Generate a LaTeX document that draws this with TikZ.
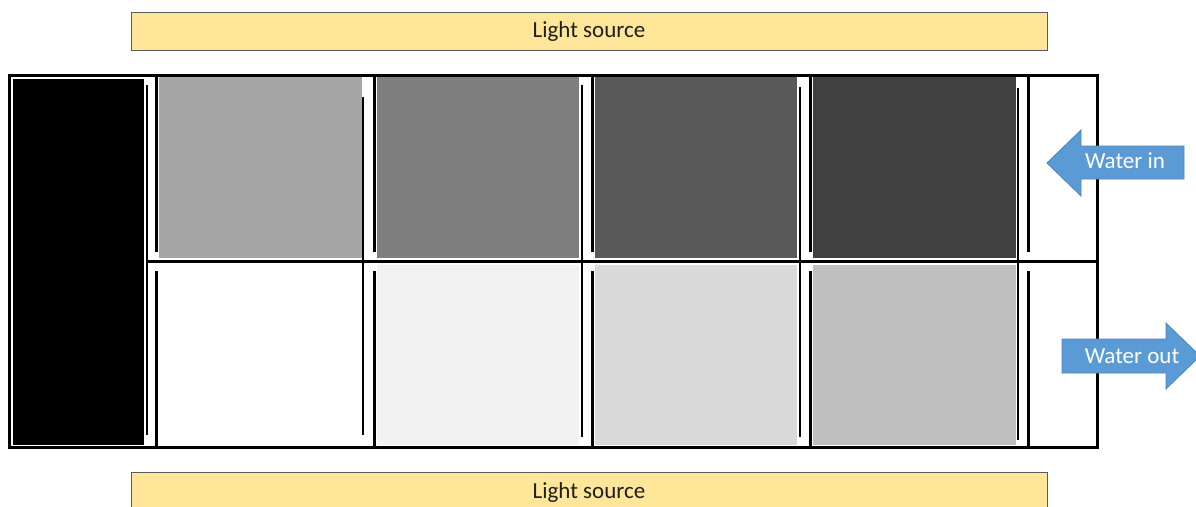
\documentclass[tikz,border=0pt]{standalone}
\usepackage{fontspec}
\setmainfont{Carlito}
\definecolor{lightY}{HTML}{FFE699}
\definecolor{arrowB}{HTML}{5B9BD5}
\definecolor{arrowE}{HTML}{4A86BE}
\definecolor{boxE}{HTML}{5A5A5A}
\begin{document}
\begin{tikzpicture}[x=1pt,y=-1pt,
  lightbox/.style={draw=boxE, line width=1pt, fill=lightY, minimum width=916pt, minimum height=38pt, inner sep=0pt, text=black!88, font=\fontsize{23}{27}\selectfont},
  wall/.style={line width=3pt, line cap=rect},
  baffle/.style={line width=2.6pt},
  flow/.style={fill=arrowB, draw=arrowE, line width=0.8pt},
  flowtext/.style={text=white, font=\fontsize{23}{27}\selectfont, inner sep=0pt}]
\clip (0,0) rectangle (1196,506);
\fill[white] (0,0) rectangle (1196,506);
% light sources
\node[lightbox] (lstop) at (589,31) {Light source};
\node[lightbox] (lsbot) at (589,491) {};
\node[text=black!88, font=\fontsize{23}{27}\selectfont, inner sep=0pt] (lsbottxt) at (589,492) {Light source};
% fills
\fill[black] (13,79) rectangle (144,445);
\fill[fill={rgb,255:red,166;green,166;blue,166}] (159,77) rectangle (362,258);
\fill[fill={rgb,255:red,127;green,127;blue,127}] (377,77) rectangle (579,258);
\fill[fill={rgb,255:red,89;green,89;blue,89}] (595,77) rectangle (797,258);
\fill[fill={rgb,255:red,64;green,64;blue,64}] (813,77) rectangle (1016,258);
\fill[fill={rgb,255:red,242;green,242;blue,242}] (377,265) rectangle (579,445);
\fill[fill={rgb,255:red,217;green,217;blue,217}] (595,265) rectangle (797,445);
\fill[fill={rgb,255:red,191;green,191;blue,191}] (813,265) rectangle (1016,445);
% walls
\draw[wall] (9,75) rectangle (1097,447);
\draw[wall] (147,261) -- (1097,261);
\foreach \x in {156,374,592,810,1028} {
  \draw[wall] (\x,75) -- (\x,250);
  \draw[wall] (\x,272) -- (\x,447);
}
% baffles
\draw[baffle] (147,85) -- (147,435);
\draw[baffle] (363,97) -- (363,435);
\draw[baffle] (582,85) -- (582,437);
\draw[baffle] (800,87) -- (800,437);
\draw[baffle] (1018,88) -- (1018,440);
% arrows
\draw[flow] (1047,163) -- (1081,130) -- (1081,146) -- (1184,146) -- (1184,179) -- (1081,179) -- (1081,196) -- cycle;
\node[flowtext] (win) at (1125,161) {Water in};
\draw[flow] (1062,339) -- (1166,339) -- (1166,323) -- (1200,356) -- (1166,389) -- (1166,373) -- (1062,373) -- cycle;
\node[flowtext] (wout) at (1132,356) {Water out};
\end{tikzpicture}
\end{document}
